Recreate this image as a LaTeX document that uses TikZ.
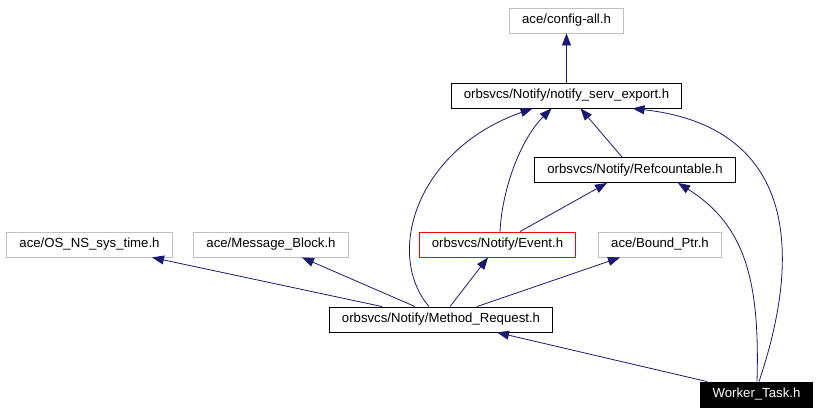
\documentclass[tikz,border=0pt]{standalone}
\usepackage{fontspec}
\setmainfont{Liberation Sans}
\usepackage{tikz}
\usetikzlibrary{arrows.meta}

\definecolor{edgeblue}{HTML}{191970}
\definecolor{boxgray}{HTML}{BFBFBF}

\tikzset{
	filebox/.style={draw=black, line width=0.9pt, minimum height=25pt,
		inner xsep=12.5pt, inner ysep=0pt,
		font=\fontsize{13.2}{15}\selectfont},
	extbox/.style={filebox, draw=boxgray},
	mainbox/.style={filebox, draw=red},
	rootbox/.style={filebox, fill=black, text=white}
}

\begin{document}
\begin{tikzpicture}[x=1pt,y=-1pt]
	\useasboundingbox (0,0) rectangle (827,413);

	\node[extbox] (config) at (566.5,20.5) {ace/config-all.h};
	\node[filebox] (nse) at (566.5,95.5) {orbsvcs/Notify/notify\_serv\_export.h};
	\node[filebox] (refc) at (635,170) {orbsvcs/Notify/Refcountable.h};

	\node[extbox] (ostime) at (89.5,244.5) {ace/OS\_NS\_sys\_time.h};
	\node[extbox] (msgblk) at (271,244.5) {ace/Message\_Block.h};
	\node[mainbox] (event) at (497.5,244.5) {orbsvcs/Notify/Event.h};
	\node[extbox] (bptr) at (660,244.5) {ace/Bound\_Ptr.h};

	\node[filebox] (mreq) at (441,319.5) {orbsvcs/Notify/Method\_Request.h};
	\node[rootbox] (worker) at (756.5,394.5) {Worker\_Task.h};

	\begin{scope}[>={Triangle[length=12pt,width=9pt]},
			every edge/.style={draw=edgeblue, line width=0.8pt}]
		\path[->] (nse) edge (config);
		\path[->] ([xshift=-13]refc.north) edge ([xshift=14]nse.south);
		\path[->] ([xshift=22.5]event.north) edge ([xshift=-28]refc.south);
		\path[->] ([xshift=-59]mreq.north) edge ([xshift=62.5]ostime.south);
		\path[->] ([xshift=-26]mreq.north) edge ([xshift=31]msgblk.south);
		\path[->] ([xshift=9]mreq.north) edge ([xshift=-9.5]event.south);
		\path[->] ([xshift=36]mreq.north) edge ([xshift=-40]bptr.south);
		\path[->] ([xshift=-49.5]worker.north) edge ([xshift=56]mreq.south);
	\end{scope}

	\begin{scope}[>={Triangle[length=12pt,width=9pt]},
			draw=edgeblue, line width=0.8pt]
		\path[draw,->] ([xshift=2.5]event.north)
			.. controls (502,190) and (520,140) .. ([xshift=-15]nse.south);
		\path[draw,->] ([xshift=-12]mreq.north)
			.. controls (385,255) and (415,150) .. ([xshift=-34]nse.south);
		\path[draw,->] ([xshift=2.5]worker.north)
			.. controls (810,230) and (780,125) .. ([xshift=66]nse.south);
		\path[draw,->] ([xshift=0.5]worker.north)
			.. controls (760,280) and (745,225) .. ([xshift=43]refc.south);
	\end{scope}

\end{tikzpicture}
\end{document}
